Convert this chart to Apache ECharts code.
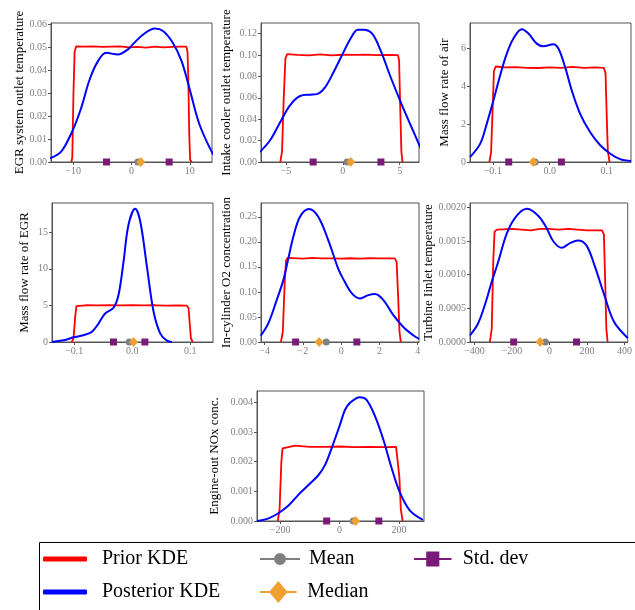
<!DOCTYPE html>
<html><head><meta charset="utf-8">
<script src="https://cdn.jsdelivr.net/npm/echarts@6/dist/echarts.min.js"></script>
<style>html,body{margin:0;padding:0;background:#fff}#c{width:635px;height:610px}</style>
</head><body><div id="c"></div><script>
// ---------- DATA ----------
const titles = ['EGR system outlet temperature','Intake cooler outlet temperature','Mass flow rate of air',
  'Mass flow rate of EGR','In-cylinder O2 concentration','Turbine Iinlet temperature','Engine-out NOx conc.'];

const priorX1 = [-10.3,-10.15,-9.95,-9.75,-9.5,-8,-6.5,-5,-3.5,-2,-0.5,1,2.5,4,5.5,7,8.5,9.4,9.6,9.75,9.9,10.05,10.3];
const priorY1 = [0,0.002,0.03,0.048,0.0503,0.0502,0.0503,0.0501,0.0502,0.0503,0.0499,0.0501,0.0498,0.0502,0.0499,0.0501,0.0502,0.0502,0.048,0.035,0.012,0.001,0];
const postX1 = [-14,-12.06,-10.05,-8.63,-7.19,-5.77,-4.34,-2.34,-0.62,0.3,2,4,5.4,7.1,8.6,10,11.7,14];
const postY1 = [0.0016,0.0045,0.014,0.0235,0.0358,0.0438,0.0475,0.0468,0.049,0.0514,0.0555,0.0581,0.057,0.0518,0.0438,0.0314,0.016,0.0032];

const priorX2 = [-5.5,-5.35,-5.2,-5.05,-4.9,-4,-3,-2,-1,0,1,2,3,4,4.85,4.95,5.05,5.15,5.25];
const priorY2 = [0,0.01,0.06,0.097,0.1008,0.1002,0.0998,0.1006,0.0997,0.1003,0.1002,0.1005,0.1,0.1002,0.1,0.095,0.05,0.01,0];
const postX2 = [-7.3,-6.4,-5.5,-4.65,-3.76,-2.88,-2.29,-1.55,-0.81,0.07,0.66,1.31,1.84,2.58,3.32,4.2,5.09,5.97,6.86];
const postY2 = [0.0094,0.0203,0.0374,0.053,0.0617,0.063,0.0635,0.0701,0.0842,0.103,0.115,0.1238,0.1238,0.12,0.1044,0.0795,0.0561,0.0343,0.0125];

const priorX3 = [-0.106,-0.103,-0.1,-0.098,-0.095,-0.08,-0.06,-0.04,-0.02,0,0.02,0.04,0.06,0.08,0.095,0.098,0.1,0.102,0.105];
const priorY3 = [0,0.5,3,4.8,5.05,5.0,5.02,4.98,4.97,5.0,4.98,5.03,4.98,5.0,4.98,4.7,2.5,0.6,0];
const postX3 = [-0.14,-0.122,-0.1105,-0.0988,-0.087,-0.0754,-0.0637,-0.049,-0.0374,-0.0228,-0.0111,0.0064,0.0152,0.0269,0.0386,0.0532,0.0708,0.0883,0.1058,0.1234,0.1427];
const postY3 = [0.26,0.97,2.03,3.26,4.59,5.73,6.53,7.02,6.79,6.26,6.12,6.23,6.0,5.03,3.79,2.56,1.59,0.9,0.45,0.15,0.05];

const priorX4 = [-0.104,-0.101,-0.098,-0.096,-0.093,-0.08,-0.06,-0.04,-0.02,0,0.02,0.04,0.06,0.08,0.094,0.097,0.099,0.101,0.104];
const priorY4 = [0,0.5,3.5,4.9,5.05,5.02,5.0,5.04,5.0,5.03,5.0,5.02,4.98,5.0,4.98,4.6,2.5,0.5,0];
const postX4 = [-0.1385,-0.118,-0.101,-0.084,-0.0695,-0.058,-0.0466,-0.0322,-0.0236,-0.0149,-0.0063,0.0052,0.0138,0.0253,0.0368,0.0483,0.0598,0.0684];
const postY4 = [0,0.23,0.64,0.92,1.38,2.52,3.9,4.68,6.42,11.0,16.05,18.2,16.5,10.3,4.13,1.15,0.18,0];

const priorX5 = [-3.15,-3.05,-2.95,-2.88,-2.8,-2,-1.5,-1,-0.5,0,0.5,1,1.5,2,2.8,2.9,2.98,3.05,3.12];
const priorY5 = [0,0.02,0.12,0.163,0.168,0.1665,0.168,0.1668,0.167,0.1665,0.1672,0.1665,0.1672,0.1668,0.167,0.16,0.09,0.02,0];
const postX5 = [-4.2,-3.81,-3.37,-3.02,-2.76,-2.5,-2.15,-1.68,-1.2,-0.68,-0.16,0.12,0.56,0.99,1.43,1.77,2.21,2.73,3.25,3.77,4.08];
const postY5 = [0.0125,0.037,0.0836,0.124,0.167,0.21,0.25,0.2654,0.25,0.204,0.147,0.125,0.097,0.0869,0.0936,0.0956,0.0836,0.0535,0.03,0.0134,0.006];

const priorX6 = [-318,-308,-300,-293,-280,-200,-150,-100,-50,0,50,100,150,200,280,290,297,303,310];
const priorY6 = [0,0.0002,0.0012,0.00164,0.00167,0.00168,0.00167,0.00166,0.00168,0.00168,0.00167,0.00168,0.00167,0.00166,0.00166,0.0016,0.0009,0.0002,0];
const postX6 = [-424,-381,-337,-311,-276,-224,-171,-119,-58,-15,22,65,109,152,196,240,292,344,417];
const postY6 = [0.0001,0.000275,0.00062,0.00087,0.00117,0.00164,0.00189,0.00198,0.00187,0.00169,0.00149,0.0014,0.00147,0.00151,0.00144,0.00114,0.0007,0.0003,0.00006];

const priorX7 = [-208,-202,-196,-192,-186,-150,-100,-50,0,50,100,150,190,196,201,206,212];
const priorY7 = [0,0.0004,0.002,0.00245,0.0025,0.00254,0.0025,0.0025,0.00251,0.00249,0.0025,0.00249,0.0025,0.00245,0.0015,0.0004,0];
const postX7 = [-278,-239,-206,-172,-139,-105,-71,-49,-27,1,18,35,68,90,118,146,174,202,236,280];
const postY7 = [0,0.00009,0.00026,0.00052,0.00088,0.00121,0.00155,0.00189,0.00245,0.00324,0.00374,0.00398,0.00417,0.00409,0.00356,0.00278,0.00182,0.00098,0.00036,0.00004];

const meanVals   = [1.09, 0.37, -0.0257, -0.0052, -0.78, -22, 46];
const medianVals = [1.6, 0.69, -0.029, 0.0023, -1.15, -50, 53.6];
const stdLow     = [-4.29, -2.61, -0.072, -0.0322, -2.38, -191, -43.6];
const stdHigh    = [6.46, 3.35, 0.0205, 0.0218, 0.82, 144, 132];

const xTicks = [[-10,0,10],[-5,0,5],[-0.1,0,0.1],[-0.1,0,0.1],[-4,-2,0,2,4],[-400,-200,0,200,400],[-200,0,200]];
const yTicks = [[0,0.01,0.02,0.03,0.04,0.05,0.06],[0,0.02,0.04,0.06,0.08,0.10,0.12],[0,2,4,6],[0,5,10,15],
  [0,0.05,0.10,0.15,0.20,0.25],[0,0.0005,0.0010,0.0015,0.0020],[0,0.001,0.002,0.003,0.004]];
const xDec = [0,0,1,1,0,0,0];
const yDec = [2,2,0,0,2,4,3];

const priorXs = [priorX1,priorX2,priorX3,priorX4,priorX5,priorX6,priorX7];
const priorYs = [priorY1,priorY2,priorY3,priorY4,priorY5,priorY6,priorY7];
const postXs = [postX1,postX2,postX3,postX4,postX5,postX6,postX7];
const postYs = [postY1,postY2,postY3,postY4,postY5,postY6,postY7];

// ---------- LAYOUT ----------
const grids = [
  {left:51, top:23, width:161, height:139},
  {left:261, top:23, width:158, height:139},
  {left:470, top:23, width:161, height:139},
  {left:52, top:203, width:161, height:139},
  {left:261, top:203, width:158, height:139},
  {left:470, top:203, width:161, height:139},
  {left:257, top:391, width:167, height:130}
];
const xRange = [[-13.8,13.8],[-7.2,6.7],[-0.14,0.1427],[-0.138,0.139],[-4.19,4.07],[-424,417],[-278,284]];
const yMax = [0.0605,0.13,7.35,19.0,0.2775,0.002066,0.00438];
const nameGaps = [21,28,19,21,28,33,36];

const SERIF = 'Liberation Serif';
const AX = '#555';
function fmt(v, d){ return (v < -1e-12 ? '\u2212' : '') + Math.abs(v).toFixed(d); }
function zip(a,b){ return a.map((x,i)=>[x,b[i]]); }

const xAxes = [], yAxes = [], series = [];
grids.forEach((g,i)=>{
  xAxes.push({type:'value', gridIndex:i, min:xRange[i][0], max:xRange[i][1],
    axisLine:{show:true,onZero:false,lineStyle:{color:AX,width:1}},
    axisTick:{show:true,customValues:xTicks[i],length:3,lineStyle:{color:AX}},
    axisLabel:{customValues:xTicks[i],formatter:v=>fmt(v,xDec[i]),fontFamily:SERIF,fontSize:10,color:'#808080',margin:4},
    splitLine:{show:false}});
  yAxes.push({type:'value', gridIndex:i, min:0, max:yMax[i],
    name:titles[i], nameLocation:'middle', nameGap:nameGaps[i],
    nameTextStyle:{fontFamily:SERIF,fontSize:13,color:'#000'},
    axisLine:{show:true,onZero:false,lineStyle:{color:AX,width:1}},
    axisTick:{show:true,customValues:yTicks[i],length:3,lineStyle:{color:AX}},
    axisLabel:{customValues:yTicks[i],formatter:v=>fmt(v,yDec[i]),fontFamily:SERIF,fontSize:10,color:'#808080',margin:4},
    splitLine:{show:false}});
  series.push({type:'line', name:'Prior KDE', xAxisIndex:i, yAxisIndex:i, data:zip(priorXs[i],priorYs[i]),
    symbol:'none', smooth:false, lineStyle:{color:'#ff0000',width:1.8}, itemStyle:{color:'#ff0000'}, z:3});
  series.push({type:'line', name:'Posterior KDE', xAxisIndex:i, yAxisIndex:i, data:zip(postXs[i],postYs[i]),
    symbol:'none', smooth:0.35, lineStyle:{color:'#0000ff',width:2}, itemStyle:{color:'#0000ff'}, z:4});
  series.push({type:'scatter', name:'Std. dev', xAxisIndex:i, yAxisIndex:i, data:[[stdLow[i],0],[stdHigh[i],0]],
    symbol:'rect', symbolSize:7, itemStyle:{color:'#7a1b7a',opacity:1}, clip:false, z:5});
  series.push({type:'scatter', name:'Mean', xAxisIndex:i, yAxisIndex:i, data:[[meanVals[i],0]],
    symbol:'circle', symbolSize:7, itemStyle:{color:'#808080',opacity:1}, clip:false, z:6});
  series.push({type:'scatter', name:'Median', xAxisIndex:i, yAxisIndex:i, data:[[medianVals[i],0]],
    symbol:'diamond', symbolSize:[9,10], itemStyle:{color:'#f0a030',opacity:1}, clip:false, z:7});
});

const legTxt = {fontFamily:SERIF,fontSize:20,color:'#000',lineHeight:22};
function leg(name, icon, left, top, w, h, pad){
  return {data:[{name:name, icon:icon}], left:left, top:top, itemWidth:w, itemHeight:h, padding:0,
    selectedMode:false, textStyle:Object.assign({padding:[0,0,0,pad]},legTxt)};
}
const legends = [
  leg('Prior KDE','roundRect',43,548,44,5,10),
  leg('Posterior KDE','roundRect',43,581,44,5,10),
  leg('Mean','path://M0,9 L40,9 L40,11 L0,11 Z M26,10 A6,6 0 1 1 14,10 A6,6 0 1 1 26,10 Z',260,548,40,12,4),
  leg('Median','path://M0,11 L40,11 L40,13 L0,13 Z M20,0 L30,12 L20,24 L10,12 Z',260,581,40,22,4),
  leg('Std. dev','path://M0,9 L40,9 L40,11 L0,11 Z M13,2 L27,2 L27,18 L13,18 Z',414,548,40,15,5)
];

const chart = echarts.init(document.getElementById('c'), null, {renderer:'canvas'});
chart.setOption({
  animation:false,
  backgroundColor:'#fff',
  grid: grids.map(g=>Object.assign({show:true,borderColor:AX,borderWidth:1,backgroundColor:'transparent'},g)),
  xAxis:xAxes, yAxis:yAxes, series:series, legend:legends,
  graphic:[{type:'rect', shape:{x:39.5,y:542.5,width:620,height:80}, style:{fill:'none',stroke:'#000',lineWidth:1}, silent:true}]
});
</script></body></html>
